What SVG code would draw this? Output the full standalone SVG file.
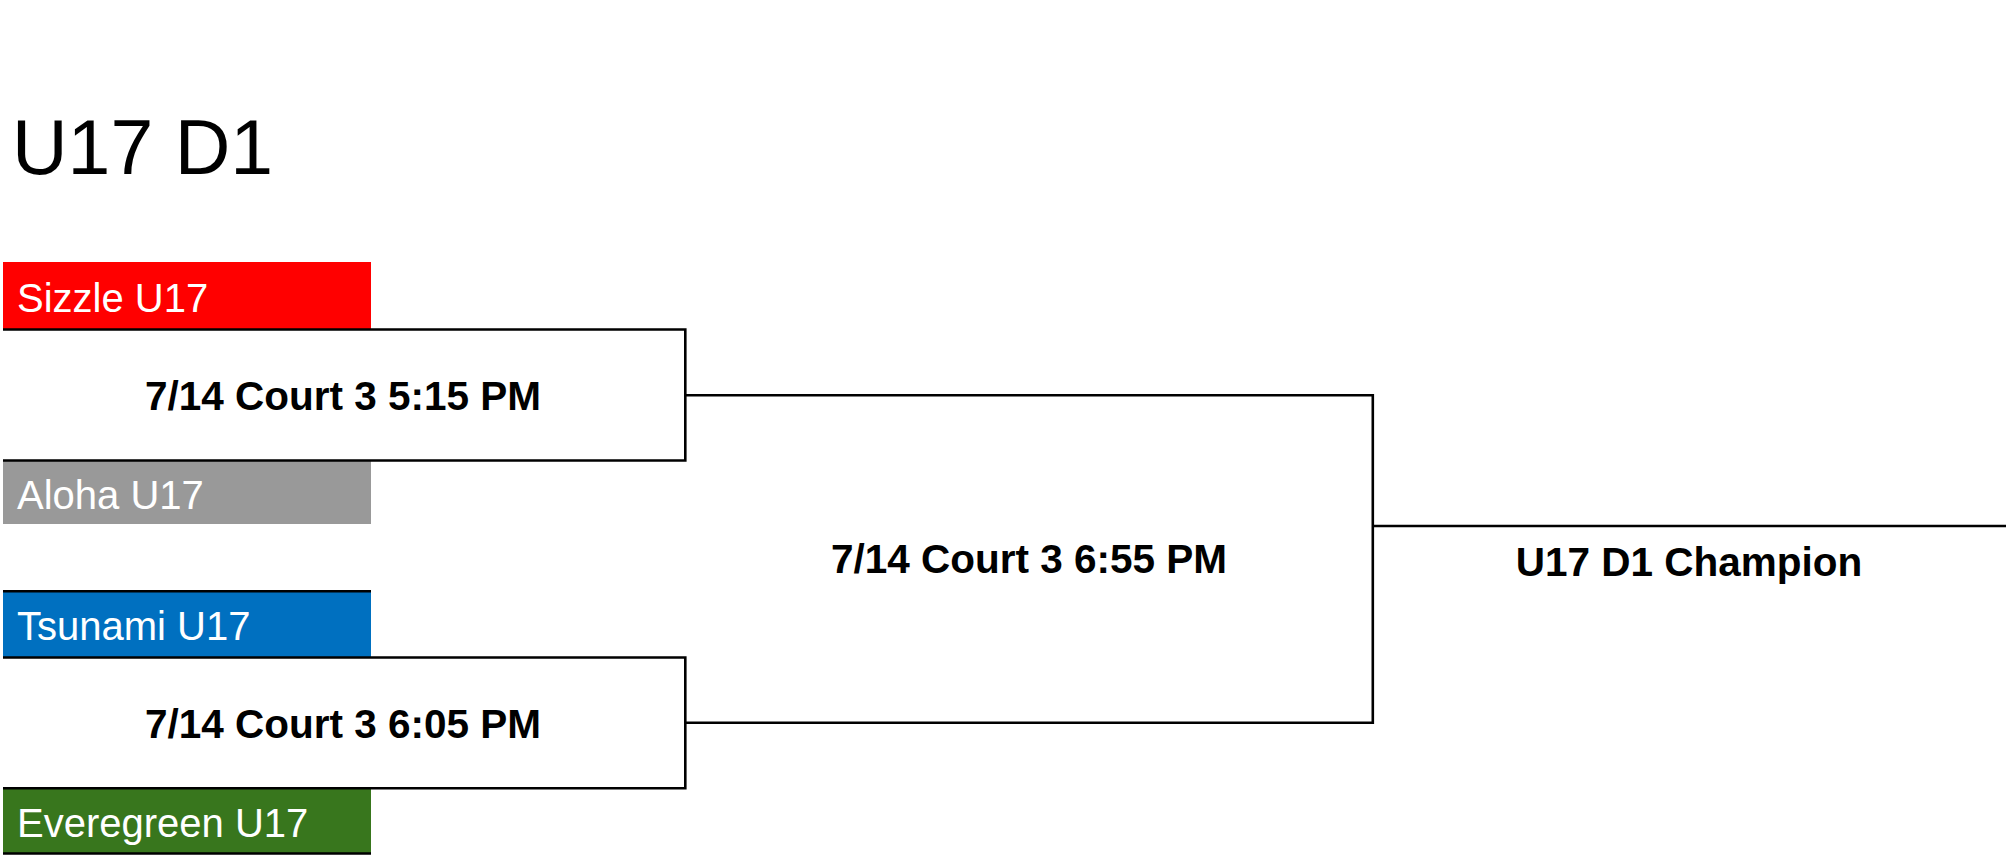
<svg xmlns="http://www.w3.org/2000/svg" width="2009" height="859" viewBox="0 0 2009 859">
<style>
.title{font-family:"Liberation Sans",Arial,sans-serif;font-size:77px;fill:#000}
.team{font-family:"Liberation Sans",Arial,sans-serif;font-size:40px;fill:#fff}
.match{font-family:"Liberation Sans",Arial,sans-serif;font-size:40.5px;font-weight:bold;fill:#000;text-anchor:middle}
.ln{stroke:#000;stroke-width:2.6;fill:none}
</style>
<rect width="2009" height="859" fill="#fff"/>
<text class="title" x="12" y="174">U17 D1</text>
<g id="team-sizzle">
<rect x="3" y="262" width="368" height="67" fill="#ff0000"/>
<text class="team" x="17" y="312">Sizzle U17</text>
</g>
<g id="team-aloha">
<rect x="3" y="461" width="368" height="63" fill="#999999"/>
<text class="team" x="17" y="509">Aloha U17</text>
</g>
<g id="team-tsunami">
<rect x="3" y="591" width="368" height="66" fill="#0070c0"/>
<line class="ln" x1="3" y1="591.3" x2="371" y2="591.3"/>
<text class="team" x="17" y="640">Tsunami U17</text>
</g>
<g id="team-everegreen">
<rect x="3" y="789" width="368" height="64" fill="#38761d"/>
<line class="ln" x1="3" y1="853.5" x2="371" y2="853.5"/>
<text class="team" x="17" y="837">Everegreen U17</text>
</g>
<g id="match-1">
<path class="ln" d="M3 329.5 H685.3 V460.5 H3"/>
<text class="match" x="343" y="409.5">7/14 Court 3 5:15 PM</text>
</g>
<g id="match-2">
<path class="ln" d="M3 657.5 H685.3 V788.3 H3"/>
<text class="match" x="343" y="737.5">7/14 Court 3 6:05 PM</text>
</g>
<g id="match-final">
<text class="match" x="1029" y="573">7/14 Court 3 6:55 PM</text>
</g>
<g id="champion">
<text class="match" x="1689" y="576">U17 D1 Champion</text>
</g>
<g id="connectors">
<path class="ln" d="M685.3 395.2 H1372.8 V722.8 H685.3"/>
<line class="ln" x1="1372.8" y1="526" x2="2006" y2="526"/>
</g>
</svg>
